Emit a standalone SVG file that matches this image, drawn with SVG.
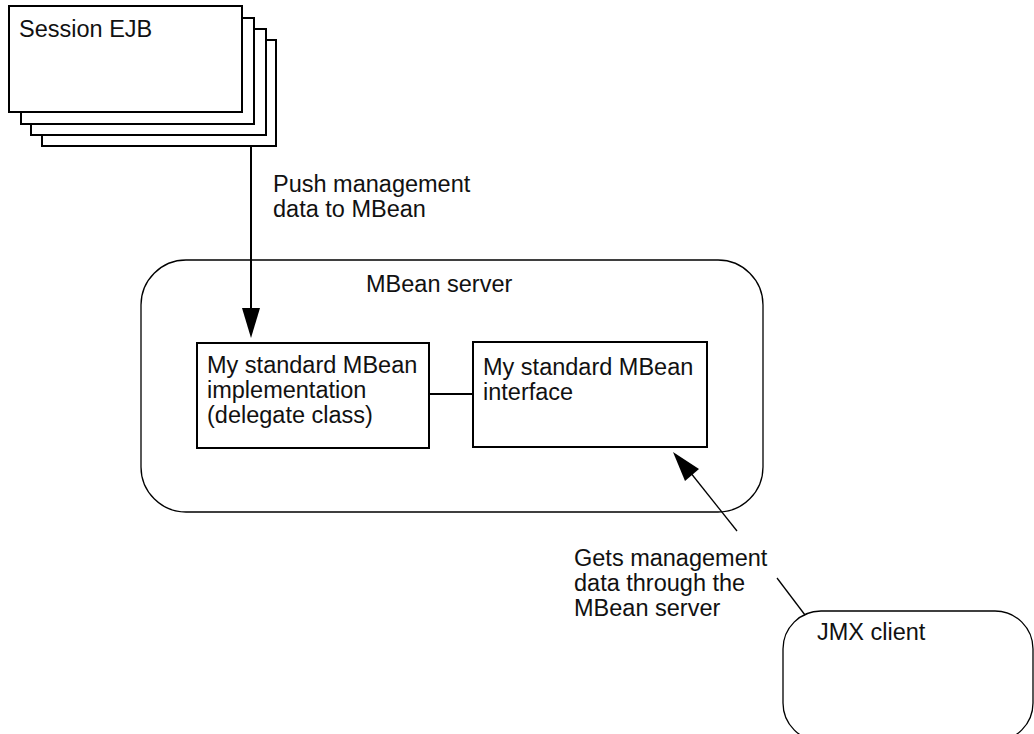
<svg xmlns="http://www.w3.org/2000/svg" width="1034" height="734" viewBox="0 0 1034 734">
<style>
text { font-family: "Liberation Sans", Arial, sans-serif; font-size: 23.5px; fill: #111; }
.box { fill: #fff; stroke: #000; stroke-width: 2; }
.round { fill: #fff; stroke: #000; stroke-width: 1.3; }
.line { stroke: #000; fill: none; }
</style>
<rect width="1034" height="734" fill="#fff"/>
<g id="mbean-server">
  <rect class="round" x="141" y="260" width="622" height="252" rx="45" ry="45"/>
  <text x="366" y="292">MBean server</text>
</g>
<g id="session-ejb">
  <rect class="box" x="42" y="40" width="234" height="106"/>
  <rect class="box" x="31" y="29" width="235" height="106"/>
  <rect class="box" x="21" y="18" width="233" height="106"/>
  <rect class="box" x="9" y="6" width="233" height="106"/>
  <text x="19" y="37">Session EJB</text>
</g>
<g id="mbean-impl">
  <rect class="box" x="197" y="343" width="232" height="105"/>
  <text x="207" y="373">My standard MBean</text>
  <text x="207" y="398">implementation</text>
  <text x="207" y="423">(delegate class)</text>
</g>
<g id="mbean-interface">
  <rect class="box" x="473" y="342" width="234" height="105"/>
  <text x="483" y="375">My standard MBean</text>
  <text x="483" y="400">interface</text>
</g>
<g id="jmx-client">
  <rect class="round" x="783" y="611" width="250" height="130" rx="38" ry="38"/>
  <text x="817" y="640">JMX client</text>
</g>
<g id="connectors">
  <line class="line" x1="251" y1="146" x2="251" y2="310" stroke-width="2"/>
  <polygon points="242,308 260,308 251,338" fill="#000"/>
  <line class="line" x1="429" y1="394" x2="473" y2="394" stroke-width="2"/>
  <line class="line" x1="737" y1="531" x2="690" y2="472" stroke-width="1.3"/>
  <polygon points="673,452 699,469 685,481" fill="#000"/>
  <line class="line" x1="777" y1="578" x2="805" y2="615" stroke-width="1.3"/>
</g>
<g id="labels">
  <text x="273" y="192">Push management</text>
  <text x="273" y="217">data to MBean</text>
  <text x="574" y="566">Gets management</text>
  <text x="574" y="591">data through the</text>
  <text x="574" y="616">MBean server</text>
</g>
</svg>
